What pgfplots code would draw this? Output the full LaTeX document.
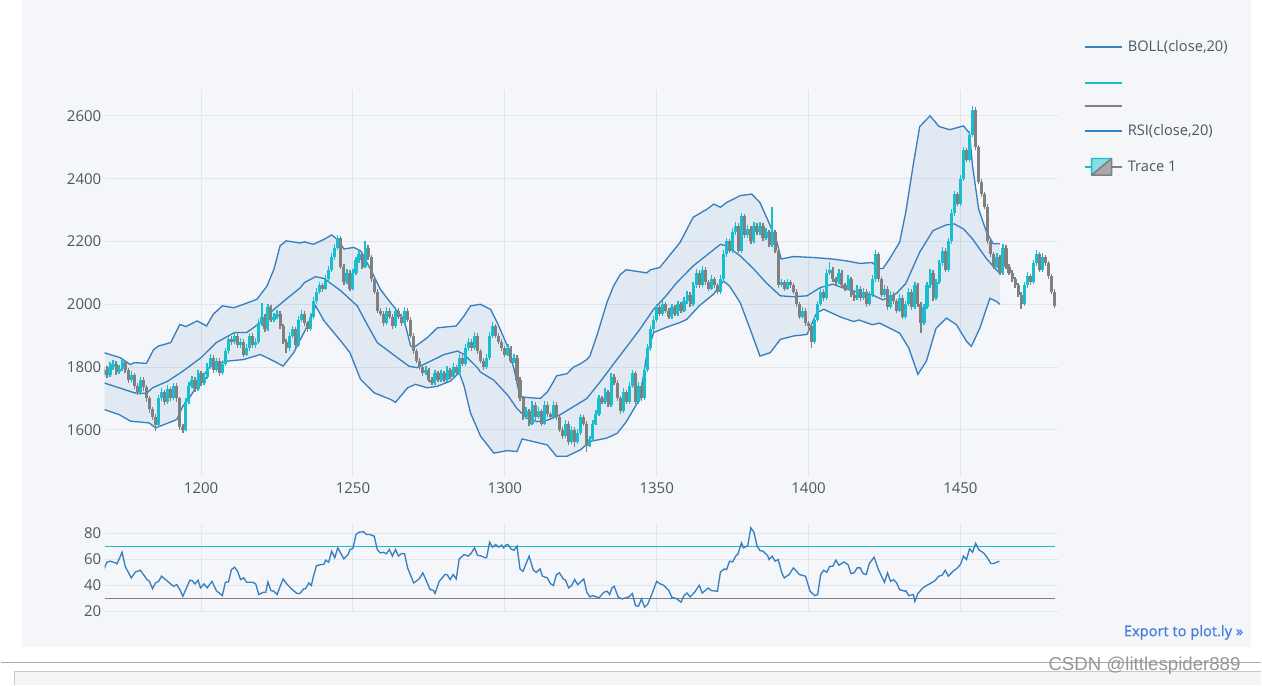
\documentclass[border=0pt]{standalone}
\usepackage{pgfplots}
\pgfplotsset{compat=1.18}
\usepackage{pgfplotstable}
\usepackage{fontspec}
\setmainfont{Open Sans}
\newfontfamily\wmfont{Liberation Sans}
\newfontfamily\linkfont[FakeBold=0.4]{Open Sans}
\definecolor{bg}{HTML}{F5F6F9}
\definecolor{gridc}{HTML}{E1E5ED}
\definecolor{tickc}{HTML}{4D5663}
\definecolor{boll}{HTML}{3780BF}
\definecolor{incr}{HTML}{17BECF}
\definecolor{decr}{HTML}{808080}
\definecolor{linkc}{HTML}{447ADB}
\definecolor{incrl}{HTML}{8BDBE5}
\definecolor{decrl}{HTML}{A8A8A8}

\pgfplotstableread{
x o c h l
1168 1780 1790 1800 1770
1169 1790 1775 1805 1765
1170 1775 1800 1815 1768
1171 1800 1810 1822 1792
1172 1810 1785 1818 1775
1173 1785 1795 1808 1778
1174 1795 1815 1825 1788
1175 1815 1790 1820 1780
1176 1790 1760 1798 1750
1177 1760 1775 1788 1752
1178 1775 1740 1780 1730
1179 1740 1720 1748 1710
1180 1720 1760 1770 1712
1181 1760 1735 1768 1725
1182 1735 1700 1742 1690
1183 1700 1665 1708 1655
1184 1665 1640 1672 1630
1185 1640 1615 1650 1595
1186 1615 1700 1710 1610
1187 1700 1720 1732 1692
1188 1720 1690 1728 1680
1189 1690 1730 1742 1684
1190 1730 1700 1738 1692
1191 1700 1740 1750 1695
1192 1740 1700 1748 1690
1193 1700 1610 1705 1600
1194 1610 1600 1620 1590
1195 1600 1690 1700 1595
1196 1690 1740 1752 1682
1197 1740 1760 1772 1732
1198 1760 1730 1768 1720
1199 1730 1780 1790 1725
1200 1780 1750 1788 1740
1201 1750 1770 1782 1744
1202 1770 1800 1812 1762
1203 1800 1830 1842 1794
1204 1830 1790 1838 1782
1205 1790 1820 1830 1784
1206 1820 1780 1828 1772
1207 1780 1810 1822 1774
1208 1810 1850 1860 1802
1209 1850 1890 1902 1842
1210 1890 1880 1898 1870
1211 1880 1900 1912 1872
1212 1900 1870 1908 1862
1213 1870 1880 1892 1862
1214 1880 1840 1888 1832
1215 1840 1860 1872 1834
1216 1860 1900 1910 1852
1217 1900 1870 1908 1862
1218 1870 1880 1892 1862
1219 1880 1940 1952 1872
1220 1940 1960 2005 1932
1221 1960 1920 1968 1912
1222 1920 1990 2000 1914
1223 1990 1950 1998 1942
1224 1950 1960 1972 1944
1225 1960 1970 1982 1952
1226 1970 1930 1978 1922
1227 1930 1880 1938 1872
1228 1880 1860 1888 1845
1229 1860 1900 1912 1852
1230 1900 1920 1932 1892
1231 1920 1870 1928 1862
1232 1870 1950 1962 1864
1233 1950 1970 1982 1942
1234 1970 1940 1978 1932
1235 1940 1920 1948 1912
1236 1920 1960 1972 1914
1237 1960 2010 2022 1952
1238 2010 2040 2052 2002
1239 2040 2060 2072 2032
1240 2060 2050 2068 2040
1241 2050 2080 2092 2044
1242 2080 2110 2122 2072
1243 2110 2150 2162 2102
1244 2150 2180 2192 2142
1245 2180 2210 2222 2172
1246 2210 2120 2218 2112
1247 2120 2070 2128 2062
1248 2070 2100 2112 2064
1249 2100 2050 2108 2042
1250 2050 2100 2112 2044
1251 2100 2140 2152 2092
1252 2140 2160 2172 2132
1253 2160 2120 2168 2112
1254 2120 2180 2200 2114
1255 2180 2150 2188 2142
1256 2150 2080 2158 2072
1257 2080 2040 2088 2032
1258 2040 1980 2048 1972
1259 1980 1970 1988 1962
1260 1970 1940 1978 1932
1261 1940 1980 1992 1934
1262 1980 1960 1988 1952
1263 1960 1930 1968 1922
1264 1930 1980 1992 1924
1265 1980 1960 1988 1952
1266 1960 1940 1968 1932
1267 1940 1980 1992 1934
1268 1980 1950 1988 1942
1269 1950 1900 1958 1892
1270 1900 1850 1908 1842
1271 1850 1820 1858 1812
1272 1820 1800 1828 1792
1273 1800 1780 1808 1772
1274 1780 1790 1802 1774
1275 1790 1760 1798 1752
1276 1760 1750 1768 1742
1277 1750 1780 1792 1744
1278 1780 1760 1788 1752
1279 1760 1780 1792 1754
1280 1780 1760 1788 1752
1281 1760 1790 1802 1754
1282 1790 1770 1798 1762
1283 1770 1800 1812 1764
1284 1800 1780 1808 1772
1285 1780 1830 1842 1774
1286 1830 1810 1838 1802
1287 1810 1860 1872 1804
1288 1860 1880 1892 1852
1289 1880 1860 1888 1852
1290 1860 1900 1912 1854
1291 1900 1850 1908 1842
1292 1850 1820 1858 1812
1293 1820 1800 1828 1792
1294 1800 1830 1842 1794
1295 1830 1900 1912 1824
1296 1900 1930 1942 1892
1297 1930 1900 1938 1892
1298 1900 1880 1908 1872
1299 1880 1860 1888 1852
1300 1860 1840 1868 1832
1301 1840 1860 1872 1834
1302 1860 1820 1868 1812
1303 1820 1830 1842 1814
1304 1830 1760 1838 1752
1305 1760 1700 1768 1692
1306 1700 1640 1708 1632
1307 1640 1660 1672 1634
1308 1660 1620 1668 1612
1309 1620 1680 1692 1614
1310 1680 1640 1688 1632
1311 1640 1660 1672 1634
1312 1660 1620 1668 1612
1313 1620 1680 1692 1614
1314 1680 1650 1688 1642
1315 1650 1640 1658 1632
1316 1640 1680 1692 1634
1317 1680 1640 1688 1632
1318 1640 1600 1648 1592
1319 1600 1580 1608 1572
1320 1580 1620 1632 1574
1321 1620 1560 1628 1552
1322 1560 1600 1612 1554
1323 1600 1560 1608 1545
1324 1560 1590 1602 1554
1325 1590 1640 1652 1584
1326 1640 1620 1648 1612
1327 1620 1550 1628 1530
1328 1550 1570 1582 1544
1329 1570 1620 1632 1564
1330 1620 1650 1662 1614
1331 1650 1700 1712 1644
1332 1700 1690 1708 1682
1333 1690 1720 1732 1684
1334 1720 1680 1728 1672
1335 1680 1770 1782 1674
1336 1770 1750 1778 1742
1337 1750 1700 1758 1692
1338 1700 1660 1708 1652
1339 1660 1720 1732 1654
1340 1720 1690 1728 1682
1341 1690 1740 1752 1684
1342 1740 1780 1792 1734
1343 1780 1690 1788 1682
1344 1690 1740 1752 1684
1345 1740 1700 1748 1692
1346 1700 1790 1802 1694
1347 1790 1860 1872 1784
1348 1860 1920 1932 1852
1349 1920 1950 1962 1912
1350 1950 1990 2002 1942
1351 1990 1970 1998 1962
1352 1970 2000 2012 1964
1353 2000 1980 2008 1972
1354 1980 1960 1988 1952
1355 1960 1990 2002 1954
1356 1990 1970 1998 1962
1357 1970 2000 2012 1964
1358 2000 1980 2008 1972
1359 1980 2010 2022 1974
1360 2010 2030 2042 2002
1361 2030 2000 2038 1992
1362 2000 2060 2072 1994
1363 2060 2100 2112 2052
1364 2100 2060 2108 2052
1365 2060 2110 2122 2054
1366 2110 2070 2118 2062
1367 2070 2050 2078 2042
1368 2050 2080 2092 2044
1369 2080 2060 2088 2052
1370 2060 2040 2068 2032
1371 2040 2080 2092 2034
1372 2080 2160 2172 2072
1373 2160 2200 2212 2152
1374 2200 2170 2208 2162
1375 2170 2230 2242 2164
1376 2230 2250 2262 2222
1377 2250 2170 2258 2162
1378 2170 2280 2292 2164
1379 2280 2220 2288 2212
1380 2220 2240 2252 2212
1381 2240 2200 2248 2192
1382 2200 2250 2262 2194
1383 2250 2230 2258 2222
1384 2230 2250 2262 2222
1385 2250 2210 2258 2202
1386 2210 2230 2242 2204
1387 2230 2190 2238 2182
1388 2190 2230 2310 2184
1389 2230 2170 2238 2162
1390 2170 2060 2178 2052
1391 2060 2070 2082 2054
1392 2070 2050 2078 2042
1393 2050 2070 2082 2044
1394 2070 2060 2078 2052
1395 2060 2040 2068 2032
1396 2040 2000 2048 1992
1397 2000 1960 2008 1952
1398 1960 1980 1992 1954
1399 1980 1940 1988 1932
1400 1940 1930 1948 1922
1401 1930 1880 1938 1862
1402 1880 1950 1962 1874
1403 1950 2000 2012 1944
1404 2000 2040 2052 1994
1405 2040 2020 2048 2012
1406 2020 2100 2112 2014
1407 2100 2110 2135 2092
1408 2110 2080 2118 2072
1409 2080 2070 2088 2062
1410 2070 2100 2112 2064
1411 2100 2060 2108 2052
1412 2060 2050 2068 2042
1413 2050 2080 2092 2044
1414 2080 2030 2088 2022
1415 2030 2020 2038 2012
1416 2020 2050 2062 2014
1417 2050 2020 2058 2012
1418 2020 2040 2052 2014
1419 2040 2000 2048 1992
1420 2000 2030 2042 1994
1421 2030 2080 2092 2024
1422 2080 2160 2172 2072
1423 2160 2080 2168 2072
1424 2080 2030 2088 2022
1425 2030 2050 2062 2024
1426 2050 1990 2058 1982
1427 1990 2030 2042 1984
1428 2030 2010 2038 2002
1429 2010 1980 2018 1972
1430 1980 2020 2032 1974
1431 2020 1960 2028 1952
1432 1960 2000 2012 1954
1433 2000 2040 2052 1994
1434 2040 1990 2048 1982
1435 1990 2060 2072 1984
1436 2060 2000 2068 1992
1437 2000 1940 2008 1910
1438 1940 1990 2002 1934
1439 1990 2060 2072 1984
1440 2060 2100 2112 2052
1441 2100 2020 2108 2012
1442 2020 2070 2082 2014
1443 2070 2130 2142 2064
1444 2130 2170 2182 2122
1445 2170 2110 2178 2102
1446 2110 2200 2212 2104
1447 2200 2290 2302 2192
1448 2290 2350 2362 2282
1449 2350 2320 2358 2312
1450 2320 2400 2412 2314
1451 2400 2490 2502 2392
1452 2490 2460 2498 2452
1453 2460 2540 2552 2452
1454 2540 2620 2630 2532
1455 2620 2500 2628 2492
1456 2500 2390 2508 2382
1457 2390 2350 2398 2342
1458 2350 2310 2358 2302
1459 2310 2200 2318 2192
1460 2200 2160 2208 2152
1461 2160 2120 2168 2112
1462 2120 2150 2162 2114
1463 2150 2100 2158 2092
1464 2100 2180 2192 2094
1465 2180 2120 2188 2112
1466 2120 2100 2128 2092
1467 2100 2080 2108 2072
1468 2080 2060 2088 2052
1469 2060 2030 2068 2022
1470 2030 2000 2038 1985
1471 2000 2060 2072 1994
1472 2060 2090 2102 2052
1473 2090 2070 2098 2062
1474 2070 2130 2142 2064
1475 2130 2160 2172 2122
1476 2160 2110 2168 2102
1477 2110 2150 2162 2104
1478 2150 2130 2158 2122
1479 2130 2090 2138 2082
1480 2090 2040 2098 2032
1481 2040 1995 2048 1987
}\candles

\pgfplotsset{
  base/.style={
    scale only axis, width=715.5pt, anchor=south west,
    xmin=1168.2, xmax=1482,
    axis line style={draw=none}, tick style={draw=none},
    major tick length=0pt,
    grid=major, grid style={gridc, line width=0.75pt},
    xtick={1200,1250,1300,1350,1400,1450},
    tick label style={font=\fontsize{11.25}{13}\selectfont, text=tickc},
    /pgf/number format/assume math mode=true,
    /pgf/number format/1000 sep={},
    yticklabel style={anchor=east, inner sep=0pt, xshift=-2.25pt},
    xticklabel style={anchor=north, inner sep=0pt, yshift=-5.25pt},
  }
}

\begin{document}
\begin{tikzpicture}
\fill[white] (0,0) rectangle (946.5pt,514.5pt);
\fill[bg] (15.75pt,28.5pt) rectangle (939pt,514.5pt);
\draw[color={rgb,255:red,170;green,170;blue,170}, line width=0.9pt] (0,17.25pt) -- (946.5pt,17.25pt);
\fill[color={rgb,255:red,245;green,245;blue,245}] (10.5pt,0) rectangle (946.5pt,10.7pt);
\draw[color={rgb,255:red,200;green,200;blue,200}, line width=0.75pt] (10.5pt,0) -- (10.5pt,10.7pt) -- (946.5pt,10.7pt);

% main price axis
\begin{axis}[base, at={(78pt,157.5pt)}, height=289.5pt,
  ymin=1454.6, ymax=2682.7, ytick={1600,1800,2000,2200,2400,2600}]
% band area: upper band, then lower band in reverse
\addplot[fill=boll, fill opacity=0.1, draw=none] coordinates {
(1168,1846)(1173.4,1830)(1176.7,1808)(1178,1814)(1182,1812)(1184.4,1856)(1186,1867)(1190,1878)(1193,1936)(1195,1929)(1198.7,1947)(1201.8,1931)(1204,1968)(1207,1995)(1210.8,1989)(1214,2000)(1218.4,2016)(1221.7,2058)(1224,2112)(1226,2186)(1228,2202)(1232.7,2195)(1234,2199)(1237,2191)(1240.5,2207)(1243,2221)(1245.4,2202)(1247,2176)(1250.3,2181)(1252.5,2170)(1255.8,2112)(1259,2048)(1262.4,2005)(1266.8,1952)(1269,1867)(1270,1862)(1274.5,1894)(1277.8,1925)(1284,1931)(1286.6,1963)(1288.7,1995)(1292,2000)(1295.3,1984)(1297.5,1942)(1300.8,1868)(1303,1795)(1305,1705)(1311.7,1700)(1314,1721)(1316,1753)(1317,1772)(1320.5,1779)(1322.6,1800)(1324.8,1810)(1327,1824)(1328,1835)(1330.3,1900)(1333.6,2005)(1335.8,2058)(1338,2095)(1340,2110)(1346.7,2100)(1348,2110)(1351,2117)(1357.7,2197)(1362,2277)(1366.6,2303)(1368.8,2319)(1371,2309)(1373,2324)(1377.5,2346)(1381.3,2351)(1384,2324)(1387.4,2250)(1389.6,2197)(1391,2144)(1395,2152)(1401.6,2149)(1408,2144)(1412.6,2138)(1417,2130)(1421,2133)(1423,2114)(1424.5,2114)(1426.7,2145)(1430,2198)(1432,2293)(1434.4,2440)(1436.6,2566)(1440,2600)(1443,2566)(1446.5,2556)(1451,2568)(1453,2545)(1454,2440)(1456,2303)(1458.6,2230)(1460.8,2193)(1463,2193)
(1463,2000)(1462,2008)(1459.7,2019)(1456.4,1924)(1453.6,1866)(1452,1882)(1448.7,1935)(1445.4,1956)(1442,1924)(1438.8,1819)(1436,1777)(1433,1861)(1430,1908)(1426.7,1924)(1423.4,1940)(1421,1935)(1416.6,1950)(1414.8,1945)(1410.4,1960)(1405,1984)(1402.7,1973)(1399.5,1904)(1395,1899)(1390.7,1888)(1387.4,1846)(1384,1835)(1380.8,1920)(1377.5,2005)(1374,2058)(1372,2074)(1368.7,2032)(1364,1995)(1359.9,1952)(1357.7,1942)(1353,1926)(1349,1910)(1346.7,1837)(1344.5,1700)(1340,1626)(1337,1589)(1333.6,1574)(1328,1563)(1325,1537)(1320.5,1516)(1317,1516)(1314,1552)(1308.4,1565)(1305.7,1571)(1304,1531)(1300.8,1534)(1296.4,1526)(1292,1580)(1288.7,1654)(1286.6,1739)(1285,1782)(1282,1755)(1277.8,1739)(1274.5,1734)(1270.6,1745)(1268,1734)(1264,1688)(1262.4,1697)(1257,1718)(1252.5,1761)(1249,1846)(1246,1883)(1240.5,1947)(1237.7,1995)(1235,1931)(1232.7,1888)(1230.5,1846)(1227,1803)(1224,1819)(1219.5,1840)(1214,1824)(1208.6,1819)(1203,1803)(1200,1761)(1196.5,1707)(1194,1675)(1192,1633)(1185,1606)(1183,1622)(1176.7,1628)(1173,1649)(1168,1665)
} -- cycle;
\addplot[boll, line width=1pt] coordinates {
(1168,1846)(1173.4,1830)(1176.7,1808)(1178,1814)(1182,1812)(1184.4,1856)(1186,1867)(1190,1878)(1193,1936)(1195,1929)(1198.7,1947)(1201.8,1931)(1204,1968)(1207,1995)(1210.8,1989)(1214,2000)(1218.4,2016)(1221.7,2058)(1224,2112)(1226,2186)(1228,2202)(1232.7,2195)(1234,2199)(1237,2191)(1240.5,2207)(1243,2221)(1245.4,2202)(1247,2176)(1250.3,2181)(1252.5,2170)(1255.8,2112)(1259,2048)(1262.4,2005)(1266.8,1952)(1269,1867)(1270,1862)(1274.5,1894)(1277.8,1925)(1284,1931)(1286.6,1963)(1288.7,1995)(1292,2000)(1295.3,1984)(1297.5,1942)(1300.8,1868)(1303,1795)(1305,1705)(1311.7,1700)(1314,1721)(1316,1753)(1317,1772)(1320.5,1779)(1322.6,1800)(1324.8,1810)(1327,1824)(1328,1835)(1330.3,1900)(1333.6,2005)(1335.8,2058)(1338,2095)(1340,2110)(1346.7,2100)(1348,2110)(1351,2117)(1357.7,2197)(1362,2277)(1366.6,2303)(1368.8,2319)(1371,2309)(1373,2324)(1377.5,2346)(1381.3,2351)(1384,2324)(1387.4,2250)(1389.6,2197)(1391,2144)(1395,2152)(1401.6,2149)(1408,2144)(1412.6,2138)(1417,2130)(1421,2133)(1423,2114)(1424.5,2114)(1426.7,2145)(1430,2198)(1432,2293)(1434.4,2440)(1436.6,2566)(1440,2600)(1443,2566)(1446.5,2556)(1451,2568)(1453,2545)(1454,2440)(1456,2303)(1458.6,2230)(1460.8,2193)(1463,2193)
};
\addplot[boll, line width=1pt] coordinates {
(1168,1665)(1173,1649)(1176.7,1628)(1183,1622)(1185,1606)(1192,1633)(1194,1675)(1196.5,1707)(1200,1761)(1203,1803)(1208.6,1819)(1214,1824)(1219.5,1840)(1224,1819)(1227,1803)(1230.5,1846)(1232.7,1888)(1235,1931)(1237.7,1995)(1240.5,1947)(1246,1883)(1249,1846)(1252.5,1761)(1257,1718)(1262.4,1697)(1264,1688)(1268,1734)(1270.6,1745)(1274.5,1734)(1277.8,1739)(1282,1755)(1285,1782)(1286.6,1739)(1288.7,1654)(1292,1580)(1296.4,1526)(1300.8,1534)(1304,1531)(1305.7,1571)(1308.4,1565)(1314,1552)(1317,1516)(1320.5,1516)(1325,1537)(1328,1563)(1333.6,1574)(1337,1589)(1340,1626)(1344.5,1700)(1346.7,1837)(1349,1910)(1353,1926)(1357.7,1942)(1359.9,1952)(1364,1995)(1368.7,2032)(1372,2074)(1374,2058)(1377.5,2005)(1380.8,1920)(1384,1835)(1387.4,1846)(1390.7,1888)(1395,1899)(1399.5,1904)(1402.7,1973)(1405,1984)(1410.4,1960)(1414.8,1945)(1416.6,1950)(1421,1935)(1423.4,1940)(1426.7,1924)(1430,1908)(1433,1861)(1436,1777)(1438.8,1819)(1442,1924)(1445.4,1956)(1448.7,1935)(1452,1882)(1453.6,1866)(1456.4,1924)(1459.7,2019)(1462,2008)(1463,2000)
};
\addplot[boll, line width=1pt] coordinates {
(1168,1750)(1173,1734)(1178,1718)(1182,1716)(1184,1734)(1189,1755)(1194,1787)(1200,1830)(1205,1878)(1211,1910)(1215,1910)(1219.5,1941)(1224,1984)(1228,2016)(1232.7,2053)(1234,2069)(1237.7,2088)(1240.5,2082)(1246,2043)(1251.4,1995)(1255,1930)(1258,1878)(1262.4,1846)(1268.4,1803)(1271,1798)(1275.6,1819)(1280,1840)(1284.4,1851)(1286.6,1840)(1291,1798)(1292,1784)(1296.4,1758)(1301,1710)(1304,1668)(1307.3,1637)(1310.6,1626)(1314,1631)(1318,1647)(1322.6,1674)(1327,1700)(1331.4,1753)(1335.8,1810)(1340,1863)(1344.5,1921)(1349,1984)(1353,2026)(1356.6,2069)(1362,2122)(1367.6,2165)(1371,2191)(1373,2186)(1377.5,2154)(1382,2112)(1386,2069)(1390.7,2027)(1395,2024)(1399.5,2027)(1403.8,2053)(1408,2064)(1412.6,2048)(1417,2037)(1421,2030)(1424.5,2014)(1429,2035)(1432,2066)(1436.6,2166)(1441,2235)(1445.4,2253)(1448,2256)(1451,2240)(1454,2208)(1458.6,2145)(1462,2108)(1463,2098)
};
% candles: wicks (low to high)
\addplot[incr, line width=1pt, mark=none, restrict expr to domain={\thisrow{c}-\thisrow{o}}{0:100000},
  quiver={u=0, v={\thisrow{h}-\thisrow{l}}}]
  table[x=x, y=l] {\candles};
\addplot[decr, line width=1pt, mark=none, restrict expr to domain={\thisrow{c}-\thisrow{o}}{-100000:0},
  quiver={u=0, v={\thisrow{h}-\thisrow{l}}}]
  table[x=x, y=l] {\candles};
% candles: bodies (open to close)
\addplot[incr, line width=2.3pt, mark=none, restrict expr to domain={\thisrow{c}-\thisrow{o}}{0:100000},
  quiver={u=0, v={\thisrow{c}-\thisrow{o}}}]
  table[x=x, y=o] {\candles};
\addplot[decr, line width=2.3pt, mark=none, restrict expr to domain={\thisrow{c}-\thisrow{o}}{-100000:0},
  quiver={u=0, v={\thisrow{c}-\thisrow{o}}}]
  table[x=x, y=o] {\candles};
\end{axis}

% RSI axis
\begin{axis}[base, at={(78pt,55.5pt)}, height=66pt,
  ymin=19.8, ymax=87.7, ytick={20,40,60,80}, xticklabels={}]
\addplot[incr, line width=0.9pt] coordinates {(1168.2,70)(1481.3,70)};
\addplot[decr, line width=0.9pt] coordinates {(1168.2,30)(1481.3,30)};
\addplot[boll, line width=1pt] coordinates {
(1168,52.6)(1169,57.8)(1170,58.6)(1171.8,57.3)(1172.3,56.5)(1174,65.5)(1175,54.7)(1177,45.7)(1178.4,50.3)(1180,51.6)(1182.2,44.4)(1183,43)(1184,37.4)(1185,41.8)(1186,43)(1187,47)(1190,41)(1191,39.2)(1192,40.5)(1193,36.7)(1194,31.5)(1196.3,43.9)(1197,43.6)(1198,41)(1199,43.9)(1199.8,38)(1201,41)(1202,38)(1203.6,43)(1205,35.9)(1207,32)(1208,42.3)(1209,42.6)(1210,52.1)(1211,53.9)(1212,50.8)(1213,44.4)(1214,45.7)(1215,42.3)(1217,42.3)(1218,41)(1219,32.8)(1220.5,34.6)(1221.3,34.6)(1222,42.6)(1223,35.9)(1224,35.4)(1225,32.8)(1227,44.9)(1228.4,40.5)(1230,36.7)(1231.6,33.6)(1232.5,33.6)(1233.8,37.2)(1234.4,37.4)(1235.5,41.8)(1236.3,39.8)(1237,47)(1238,55.2)(1239.6,56)(1240.4,56)(1241,59.4)(1242,57.8)(1243,66.3)(1244,61.2)(1245,68.9)(1247,60.4)(1248.4,63.7)(1249,67.6)(1250,68.4)(1251,79.2)(1252,81)(1253.6,81.3)(1254.4,79.2)(1255.6,79.2)(1257,77.9)(1258,67.6)(1259,65)(1260,65.5)(1261,64.3)(1262,67.6)(1263,62.5)(1264,67.6)(1265,62.5)(1266,64.5)(1267,64.3)(1268,53.4)(1270,41.8)(1271.8,44.9)(1273,49.6)(1274,44.4)(1275.4,36.7)(1276.5,36.1)(1277,33.6)(1278.4,43)(1280.3,48.3)(1281,48.3)(1282,44.4)(1283,48.3)(1284,44.9)(1285,60.4)(1286.6,63.7)(1288,62.5)(1289,65)(1290,68.9)(1291,63.2)(1292.3,62.5)(1293.6,61.2)(1294,61.2)(1295,73.3)(1296,69.4)(1297,71.5)(1298,69.4)(1299,71)(1299.6,68.9)(1300.3,71)(1301,71.5)(1302,68.1)(1303,67)(1304,70.2)(1305,52.6)(1306,50.8)(1308,62.5)(1309.4,51.6)(1310.4,50)(1311.6,52.6)(1312.4,47)(1314,45.7)(1315,41.3)(1316,39.8)(1317,48.3)(1318,49.6)(1319.2,44.9)(1320,43.9)(1321,38)(1322,39.8)(1323,44.4)(1324,40.5)(1326,44.9)(1327,34.6)(1328,31)(1329,32)(1331,30.2)(1332.6,34.6)(1333.7,35.4)(1334.5,32.8)(1335.3,38)(1336,39.2)(1337.3,31)(1338.6,29.4)(1340.8,31)(1342,33.6)(1343,24.3)(1344,23.8)(1345,29.4)(1346,23.2)(1347,25.1)(1348.5,33.6)(1350,43)(1351,41.3)(1352.3,40)(1354,35.9)(1355,30.7)(1356.5,29.7)(1358,26.9)(1359,32)(1360,34)(1361,31)(1362.5,34.6)(1364,40)(1365,34)(1367,37.9)(1368,35.9)(1370,35.4)(1371,50.3)(1372.3,52.6)(1373,52.1)(1374,58.6)(1375,58)(1376,62.5)(1376.8,64.3)(1377.9,72.8)(1378.6,68.9)(1380,70.7)(1381,84.4)(1382,81)(1383,70.7)(1384,66.8)(1385,66.3)(1386.5,63)(1387,59.9)(1388,62.5)(1389,58.6)(1390,59.9)(1391.2,49.6)(1392,45.7)(1393.6,48.3)(1395,53.4)(1397,48.3)(1399,47)(1400.5,35.4)(1402,32)(1403,32.8)(1404,48.3)(1405,51.6)(1406,50)(1407,54.7)(1408,54.7)(1409,59.4)(1410,55.5)(1411.7,58)(1413,55.9)(1414,49)(1415,49.6)(1416,53.4)(1417,53.4)(1418,49)(1419,48.3)(1420,56.8)(1421.6,61.7)(1423,52.1)(1425,42.3)(1426,49.6)(1427,43)(1428,44.4)(1429,41.8)(1430,36.7)(1431.6,35.4)(1432,35.9)(1433,32)(1434.5,32.8)(1435,27.6)(1436,33.6)(1437.6,37.9)(1439,40)(1440,41.3)(1441.7,43.6)(1442.8,47)(1444,47.7)(1445,51.6)(1446,47)(1447.6,50.8)(1449,53.4)(1450,56)(1451,62.5)(1452,59.9)(1453,68.1)(1454,65.5)(1455,72.3)(1456,67.6)(1457.6,65)(1458.7,61.9)(1460,56.8)(1461,56.8)(1462.8,58.6)
};
\end{axis}

% legend
\begin{scope}[every node/.style={font=\fontsize{11}{13}\selectfont, text=tickc, anchor=west, inner sep=0pt}]
\draw[boll, line width=1pt] (813.75pt,479.25pt) -- (841.5pt,479.25pt);
\node at (846pt,479.25pt) {BOLL(close,20)};
\draw[incr, line width=1pt] (813.75pt,452.25pt) -- (841.5pt,452.25pt);
\draw[decr, line width=1pt] (813.75pt,435pt) -- (841.5pt,435pt);
\draw[boll, line width=1pt] (813.75pt,416.25pt) -- (841.5pt,416.25pt);
\node at (846pt,416.25pt) {RSI(close,20)};
\draw[incr, line width=1.2pt] (813.75pt,389.25pt) -- (819pt,389.25pt);
\draw[decr, line width=1.2pt] (834pt,389.25pt) -- (841.5pt,389.25pt);
\filldraw[fill=incrl, draw=incr, line width=1.1pt, line join=round] (819pt,383pt) -- (819pt,395.5pt) -- (834pt,395.5pt) -- cycle;
\filldraw[fill=decrl, draw=decr, line width=1.1pt, line join=round] (819pt,383pt) -- (834pt,383pt) -- (834pt,395.5pt) -- cycle;
\node at (846pt,389.25pt) {Trace 1};
\end{scope}

\node[anchor=east, inner sep=0pt, text=linkc, font=\linkfont\fontsize{11}{13}\selectfont] at (933pt,39.75pt) {Export to plot.ly »};
\node[inner sep=0pt, text={rgb,255:red,150;green,150;blue,150}, font=\wmfont\fontsize{14}{16}\selectfont] at (858.75pt,15pt) {CSDN @littlespider889};
\end{tikzpicture}
\end{document}
